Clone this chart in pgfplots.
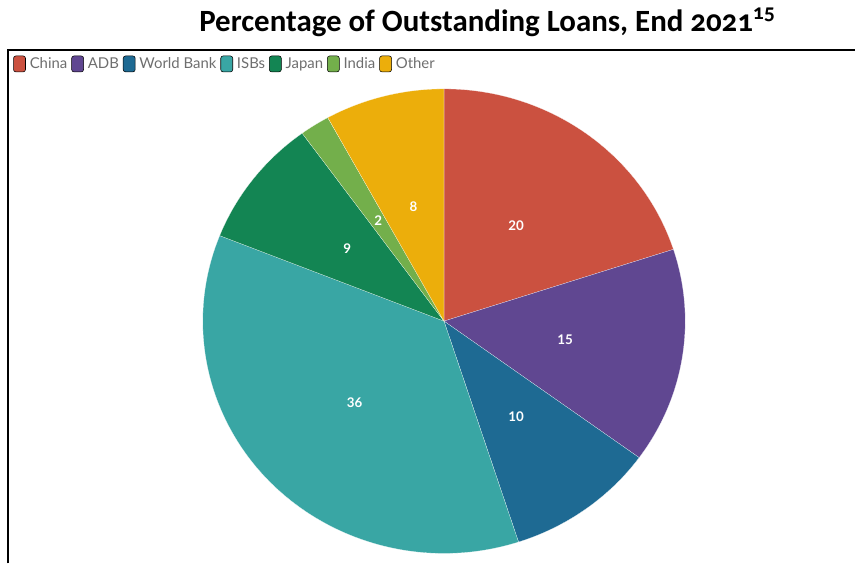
\documentclass[border=0pt]{standalone}
\usepackage{fontspec}
\usepackage{pgfplots}
\pgfplotsset{compat=1.18}
\setmainfont{Lato}
\newfontfamily\titlefont[Numbers=OldStyle]{Carlito}
\newcommand\legendfont{\fontsize{11.2}{13}\selectfont}
\newcommand\pielabelfont{\bfseries\fontsize{10}{12}\selectfont}
\definecolor{cChina}{HTML}{CB5140}
\definecolor{cADB}{HTML}{604791}
\definecolor{cWB}{HTML}{1E6A93}
\definecolor{cISB}{HTML}{39A6A4}
\definecolor{cJapan}{HTML}{138553}
\definecolor{cIndia}{HTML}{73AF4B}
\definecolor{cOther}{HTML}{ECAE0B}
\definecolor{legendgray}{HTML}{6E6E6E}
% pie centre (axis units = px, y up) and radii (pt)
\def\cum{0}
\newcommand\pieslice[3]{% value, colour, label
  \pgfmathsetmacro\sa{90-3.6*\cum}%
  \pgfmathsetmacro\ea{90-3.6*(\cum+#1)}%
  \pgfmathsetmacro\ma{(\sa+\ea)/2}%
  \pgfmathsetmacro\nc{\cum+#1}\xdef\cum{\nc}%
  \edef\tmp{%
    \noexpand\fill[#2, draw=white, line width=0.1pt] (axis cs:444.5,242.5) -- ++(\sa:181.125pt and 174.375pt)
      arc[start angle=\sa, end angle=\ea, x radius=181.125pt, y radius=174.375pt] -- cycle;
    \noexpand\path (axis cs:444.5,242.5) ++(\ma:92pt and 89pt) node[text=white, font=\noexpand\pielabelfont] {#3};
  }\tmp}
\begin{document}
\begin{tikzpicture}
\begin{axis}[
  hide axis, scale only axis, clip=false,
  width=642pt, height=423pt,
  xmin=0, xmax=856, ymin=0, ymax=564,
  legend columns=-1,
  legend image code/.code={\fill[#1, rounded corners=1.8pt] (0pt,-6pt) rectangle (9pt,6pt);},
  legend style={at={(axis cs:13,500)}, anchor=west, draw=none, fill=none, inner sep=0pt,
    font=\legendfont, text=legendgray, nodes={inner sep=0pt},
    /tikz/every odd column/.style={column sep=3pt},
    /tikz/every even column/.style={column sep=3pt}},
]
\path (axis cs:0,0) rectangle (axis cs:856,564);
\addlegendimage{fill=cChina}\addlegendentry{China}
\addlegendimage{fill=cADB}\addlegendentry{ADB}
\addlegendimage{fill=cWB}\addlegendentry{World Bank}
\addlegendimage{fill=cISB}\addlegendentry{ISBs}
\addlegendimage{fill=cJapan}\addlegendentry{Japan}
\addlegendimage{fill=cIndia}\addlegendentry{India}
\addlegendimage{fill=cOther}\addlegendentry{Other}
\pieslice{20}{cChina}{20}
\pieslice{15}{cADB}{15}
\pieslice{10}{cWB}{10}
\pieslice{36}{cISB}{36}
\pieslice{9}{cJapan}{9}
\pieslice{2}{cIndia}{2}
\pieslice{8}{cOther}{8}
\draw[line width=1.5pt] (axis cs:8.5,0) -- (axis cs:8.5,513.5) -- (axis cs:856,513.5);
\node[font=\titlefont\bfseries\fontsize{23.2}{27}\selectfont, anchor=base] at (axis cs:488,532)
  {Percentage of Outstanding Loans, End 2021\textsuperscript{15}};
\end{axis}
\end{tikzpicture}
\end{document}
